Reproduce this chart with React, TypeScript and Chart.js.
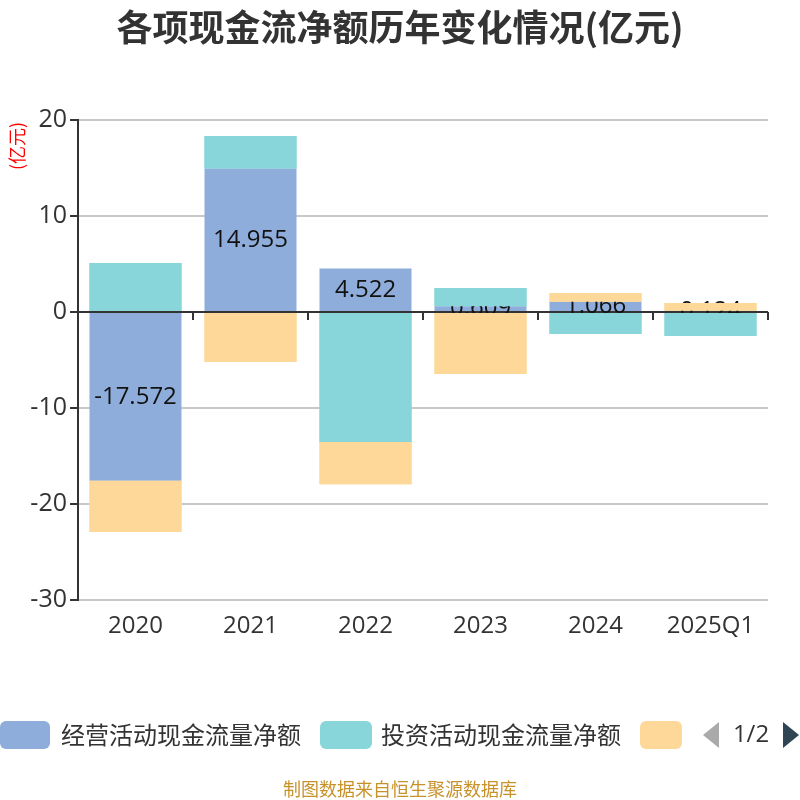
import { useEffect, useRef } from "react";
import { Chart, registerables } from "chart.js";

Chart.register(...registerables);

const years = ["2020", "2021", "2022", "2023", "2024", "2025Q1"];
const operating = [-17.572, 14.955, 4.522, 0.609, 1.066, 0.124];
const investing = [5.1, 3.38, -13.55, 1.9, -2.3, -2.5];
const financing = [-5.35, -5.2, -4.4, -6.45, 0.91, 0.82];
const seriesNames = ["经营活动现金流量净额", "投资活动现金流量净额", "筹资活动现金流量净额"];
const colors = ["#8eaddb", "#88d6d9", "#fed898"];
const yTicks = [-30, -20, -10, 0, 10, 20];

const CJK = '"Noto Sans CJK SC", "Noto Sans", sans-serif';
const NUM = '"Open Sans", "Noto Sans CJK SC", sans-serif';

const extras = {
  id: "extras",
  beforeDatasetsDraw(chart: any) {
    const ctx = chart.ctx;
    const area = chart.chartArea;
    const zeroY = chart.scales.y.getPixelForValue(0);
    ctx.save();
    ctx.strokeStyle = "#333";
    ctx.lineWidth = 2;
    ctx.beginPath();
    ctx.moveTo(area.left, zeroY);
    ctx.lineTo(area.right, zeroY);
    const step = (area.right - area.left) / years.length;
    for (let i = 1; i <= years.length; i++) {
      const x = Math.round(area.left + i * step);
      ctx.moveTo(x, zeroY);
      ctx.lineTo(x, zeroY + 8);
    }
    ctx.stroke();
    ctx.restore();
  },
  afterDatasetsDraw(chart: any) {
    const ctx = chart.ctx;
    const meta = chart.getDatasetMeta(0);
    ctx.save();
    ctx.font = `24px ${NUM}`;
    ctx.fillStyle = "#111";
    ctx.textAlign = "center";
    ctx.textBaseline = "middle";
    meta.data.forEach((bar: any, i: number) => {
      const y = (bar.y + bar.base) / 2;
      ctx.fillText(String(operating[i]), bar.x, y);
    });
    ctx.restore();
    // the other series sit above the labels, as in the source
    [1, 2].forEach((di) => {
      chart.getDatasetMeta(di).data.forEach((el: any) => el.draw(ctx));
    });
  },
  afterDraw(chart: any) {
    const ctx = chart.ctx;
    ctx.save();
    ctx.textBaseline = "middle";

    // title
    ctx.fillStyle = "#333";
    ctx.font = `bold 36px ${CJK}`;
    ctx.textAlign = "center";
    ctx.fillText("各项现金流净额历年变化情况(亿元)", 400, 27);

    // y axis unit
    ctx.save();
    ctx.translate(17, 146);
    ctx.rotate(-Math.PI / 2);
    ctx.fillStyle = "#ff0000";
    ctx.font = `18px ${CJK}`;
    ctx.fillText("(亿元)", 0, 0);
    ctx.restore();

    // legend
    const boxY = 721;
    const boxH = 28;
    const boxes = [
      { x: 0, w: 50, text: seriesNames[0] },
      { x: 320, w: 52, text: seriesNames[1] },
      { x: 640, w: 42, text: "" },
    ];
    boxes.forEach((b, i) => {
      ctx.fillStyle = colors[i];
      ctx.beginPath();
      (ctx as any).roundRect(b.x, boxY, b.w, boxH, 6);
      ctx.fill();
      if (b.text) {
        ctx.fillStyle = "#333";
        ctx.font = `24px ${CJK}`;
        ctx.textAlign = "left";
        ctx.fillText(b.text, b.x + 61, boxY + boxH / 2);
      }
    });
    // pager
    ctx.fillStyle = "#aaa";
    ctx.beginPath();
    ctx.moveTo(719, 722);
    ctx.lineTo(719, 748);
    ctx.lineTo(703, 735);
    ctx.closePath();
    ctx.fill();
    ctx.fillStyle = "#333";
    ctx.font = `24px ${NUM}`;
    ctx.textAlign = "center";
    ctx.fillText("1/2", 751, 735);
    ctx.fillStyle = "#2f4554";
    ctx.beginPath();
    ctx.moveTo(783, 722);
    ctx.lineTo(783, 748);
    ctx.lineTo(799, 735);
    ctx.closePath();
    ctx.fill();

    // source
    ctx.fillStyle = "#c8922a";
    ctx.font = `18px ${CJK}`;
    ctx.fillText("制图数据来自恒生聚源数据库", 400, 789);
    ctx.restore();
  },
};

const App = () => {
  const canvasRef = useRef<HTMLCanvasElement | null>(null);
  const chartRef = useRef<Chart | null>(null);

  useEffect(() => {
    document.body.style.margin = "0";
    if (chartRef.current) chartRef.current.destroy();
    if (!canvasRef.current) return;
    const datasets = [operating, investing, financing].map((d, i) => ({
      label: seriesNames[i],
      data: d,
      backgroundColor: colors[i],
      borderWidth: 0,
      barPercentage: 0.8,
      categoryPercentage: 1,
    }));
    chartRef.current = new Chart(canvasRef.current, {
      type: "bar",
      data: { labels: years, datasets },
      options: {
        animation: false,
        responsive: false,
        devicePixelRatio: 1,
        layout: { padding: { top: 120, right: 32, bottom: 150, left: 0 } },
        plugins: {
          legend: { display: false },
          title: { display: false },
          tooltip: { enabled: false },
        },
        scales: {
          x: {
            stacked: true,
            grid: { display: false },
            border: { display: false },
            ticks: { color: "#333", font: { size: 24, family: NUM }, padding: 4 },
            afterFit: (s: any) => {
              s.height = 50;
            },
          },
          y: {
            stacked: true,
            min: -30,
            max: 20,
            afterBuildTicks: (s: any) => {
              s.ticks = yTicks.map((v) => ({ value: v }));
            },
            grid: { color: "#c8c8c8", lineWidth: 2, tickLength: 8, tickColor: "#333" },
            border: { display: true, color: "#333", width: 2 },
            ticks: { color: "#333", font: { size: 25, family: NUM }, padding: 3 },
            afterFit: (s: any) => {
              s.width = 78;
            },
          },
        },
      },
      plugins: [extras],
    });
    return () => {
      if (chartRef.current) {
        chartRef.current.destroy();
        chartRef.current = null;
      }
    };
  }, []);

  return (
    <div style={{ width: 800, height: 800 }}>
      <canvas ref={canvasRef} width={800} height={800} />
    </div>
  );
};

export default App;
